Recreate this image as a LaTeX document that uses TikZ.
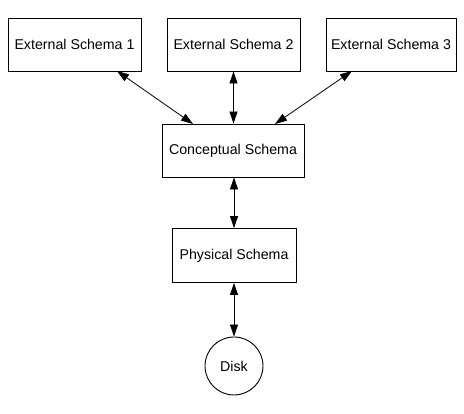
\documentclass[tikz,border=0pt]{standalone}
\usepackage{fontspec}
\setmainfont{Liberation Sans}
\usetikzlibrary{arrows.meta}
\begin{document}
\begin{tikzpicture}[x=1pt,y=1pt,
  box/.style={draw,line width=0.9pt,inner sep=0pt,font=\fontsize{14.2}{17}\selectfont},
  link/.style={line width=0.8pt,{Triangle[length=12pt,width=8pt]}-{Triangle[length=12pt,width=8pt]}}]
\useasboundingbox (0,0) rectangle (464,414);
\node[box,minimum width=133pt,minimum height=53pt] (e1) at (74.5,369.5) {External Schema 1};
\node[box,minimum width=133pt,minimum height=53pt] (e2) at (233.5,369.5) {External Schema 2};
\node[box,minimum width=130pt,minimum height=53pt] (e3) at (391,369.5) {External Schema 3};
\node[box,minimum width=142pt,minimum height=53pt] (c) at (233,263.5) {Conceptual Schema};
\node[box,minimum width=124pt,minimum height=54pt] (p) at (234,158.5) {Physical Schema};
\node[box,circle,minimum size=58pt] (d) at (234,48) {Disk};
\coordinate (e1b) at (117,343);
\coordinate (c1) at (193,290);
\coordinate (e3b) at (352,343);
\coordinate (c3) at (275,290);
\draw[link] (e1b) -- (c1);
\draw[link] (e3b) -- (c3);
\draw[link] (e2.south) -- (e2.south |- c.north);
\draw[link] (c.south -| p.north) -- (p.north);
\draw[link] (p.south) -- (d.north);
\end{tikzpicture}
\end{document}
